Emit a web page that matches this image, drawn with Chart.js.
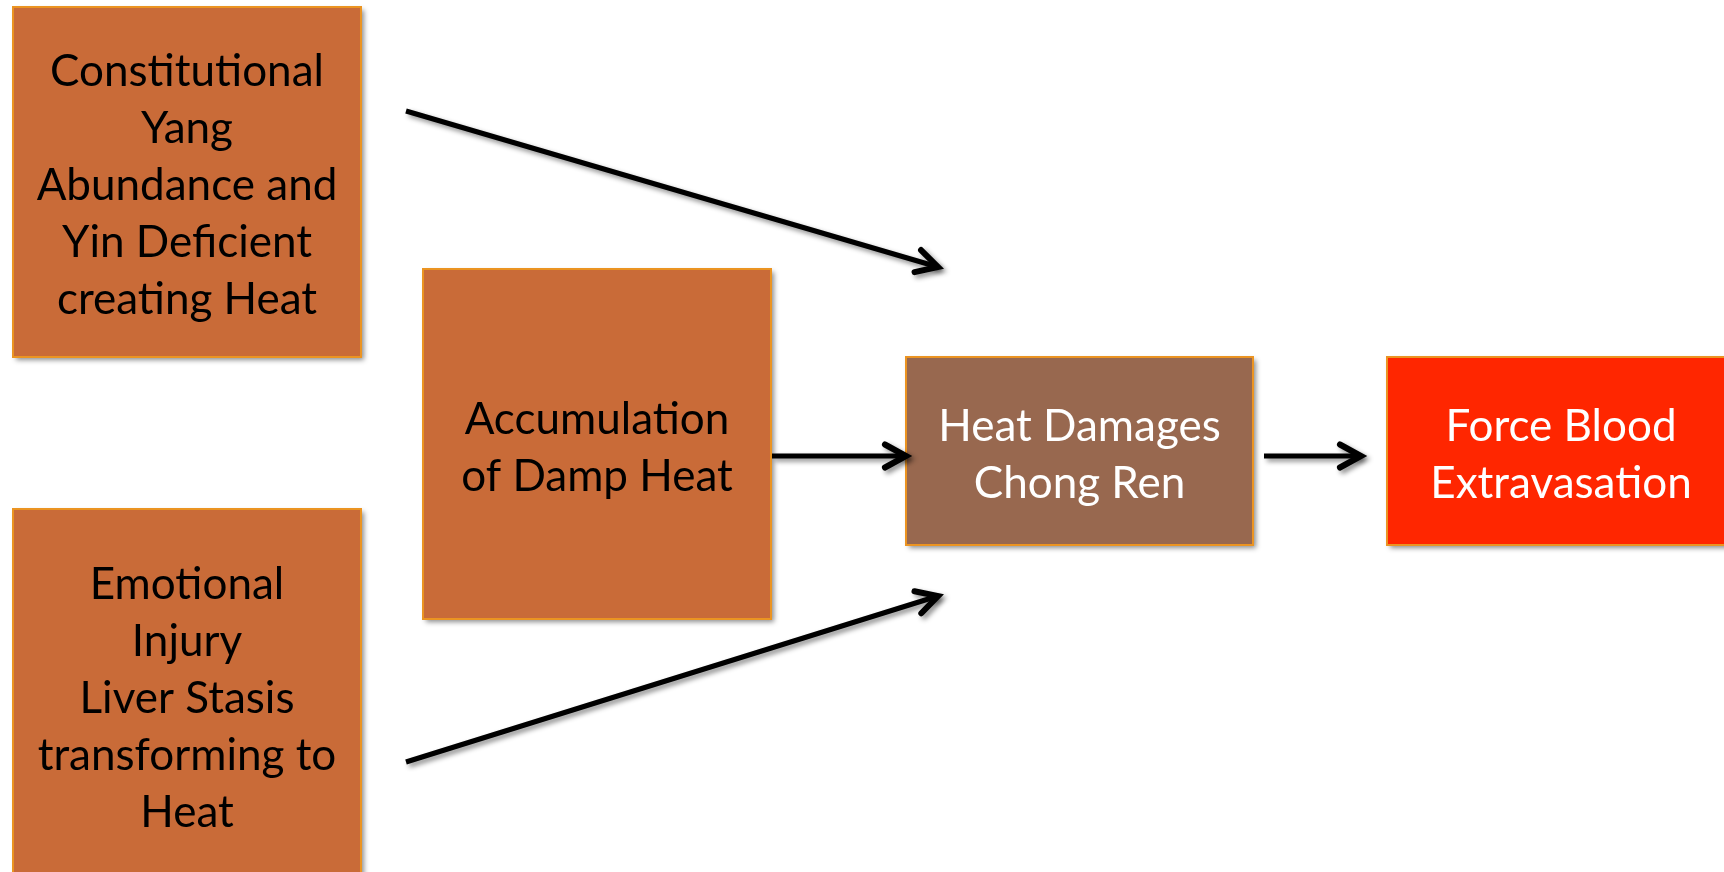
<!DOCTYPE html>
<html>
<head>
<meta charset="utf-8">
<script src="https://cdn.jsdelivr.net/npm/chart.js@4.4.1/dist/chart.umd.min.js"></script>
<style>
  html, body { margin: 0; padding: 0; background: #fff; overflow: hidden; }
  #wrap { width: 1724px; height: 872px; position: relative; }
</style>
</head>
<body>
<div id="wrap"><canvas id="flow"></canvas></div>
<script>
// nodes of the diagram, extents in chart units (x 0..1724, y 0..872 top-down)
var nodeLabels = [
  ['Constitutional', 'Yang', 'Abundance and', 'Yin Deficient', 'creating Heat'],
  ['Accumulation', 'of Damp Heat'],
  ['Emotional', 'Injury', 'Liver Stasis', 'transforming to', 'Heat'],
  ['Heat Damages', 'Chong Ren'],
  ['Force Blood', 'Extravasation']
];
var nodeLeft   = [13, 423, 13, 906, 1387];
var nodeRight  = [361, 771, 361, 1253, 1735];
var nodeTop    = [7, 269, 509, 357, 357];
var nodeBottom = [357, 619, 880, 545, 545];
var nodeKind   = ['cause', 'cause', 'cause', 'effect', 'result'];

// connectors: from (x0,y0) to (x1,y1)
var arrowX0 = [406, 406, 772, 1264];
var arrowY0 = [111, 762, 456, 456];
var arrowX1 = [938, 938, 906, 1361];
var arrowY1 = [267, 596, 456, 456];

var fillFor = { cause: '#C96B38', effect: '#98684F', result: '#FF2600' };
var textFor = { cause: '#000000', effect: '#FFFFFF', result: '#FFFFFF' };

var datasets = [];
for (var i = 0; i < arrowX0.length; i++) {
  datasets.push({
    label: 'arrow' + i,
    data: [{ x: arrowX0[i], y: arrowY0[i] }, { x: arrowX1[i], y: arrowY1[i] }],
    showLine: true,
    borderColor: '#000',
    borderWidth: 5,
    pointRadius: 0,
    borderCapStyle: 'butt'
  });
}

function shadowOn(ctx) {
  ctx.shadowColor = 'rgba(0,0,0,0.45)';
  ctx.shadowBlur = 5;
  ctx.shadowOffsetX = 3;
  ctx.shadowOffsetY = 3;
}

var boxesPlugin = {
  id: 'boxes',
  beforeDatasetsDraw: function (chart) {
    var ctx = chart.ctx, xs = chart.scales.x, ys = chart.scales.y;
    for (var i = 0; i < nodeLabels.length; i++) {
      var l = xs.getPixelForValue(nodeLeft[i]), r = xs.getPixelForValue(nodeRight[i]);
      var t = ys.getPixelForValue(nodeTop[i]), b = ys.getPixelForValue(nodeBottom[i]);
      ctx.save();
      shadowOn(ctx);
      ctx.fillStyle = fillFor[nodeKind[i]];
      ctx.fillRect(l, t, r - l, b - t);
      ctx.restore();
      ctx.save();
      ctx.strokeStyle = '#EB9422';
      ctx.lineWidth = 2;
      ctx.strokeRect(l, t, r - l, b - t);
      // label
      ctx.fillStyle = textFor[nodeKind[i]];
      ctx.font = '44px Lato, "Open Sans", sans-serif';
      ctx.textAlign = 'center';
      ctx.textBaseline = 'middle';
      var lines = nodeLabels[i], lh = 57;
      var cx = (l + r) / 2, cy = (t + b) / 2 + 4;
      for (var k = 0; k < lines.length; k++) {
        ctx.fillText(lines[k], cx, cy + (k - (lines.length - 1) / 2) * lh);
      }
      ctx.restore();
    }
    ctx.save();
    shadowOn(ctx);
  },
  afterDatasetsDraw: function (chart) {
    var ctx = chart.ctx, xs = chart.scales.x, ys = chart.scales.y;
    // arrow heads (shadow still on)
    ctx.strokeStyle = '#000';
    ctx.lineWidth = 6;
    ctx.lineCap = 'round';
    ctx.lineJoin = 'miter';
    for (var i = 0; i < arrowX0.length; i++) {
      var x0 = xs.getPixelForValue(arrowX0[i]), y0 = ys.getPixelForValue(arrowY0[i]);
      var x1 = xs.getPixelForValue(arrowX1[i]), y1 = ys.getPixelForValue(arrowY1[i]);
      var a = Math.atan2(y1 - y0, x1 - x0), len = 24, spread = 0.5;
      ctx.beginPath();
      ctx.moveTo(x1 - len * Math.cos(a - spread), y1 - len * Math.sin(a - spread));
      ctx.lineTo(x1, y1);
      ctx.lineTo(x1 - len * Math.cos(a + spread), y1 - len * Math.sin(a + spread));
      ctx.stroke();
    }
    ctx.restore();
  }
};

new Chart(document.getElementById('flow'), {
  type: 'scatter',
  data: { datasets: datasets },
  options: {
    responsive: true,
    maintainAspectRatio: false,
    animation: false,
    layout: { padding: 0 },
    plugins: { legend: { display: false }, tooltip: { enabled: false } },
    scales: {
      x: { type: 'linear', min: 0, max: 1724, display: false },
      y: { type: 'linear', min: 0, max: 872, reverse: true, display: false }
    }
  },
  plugins: [boxesPlugin]
});
</script>
</body>
</html>
